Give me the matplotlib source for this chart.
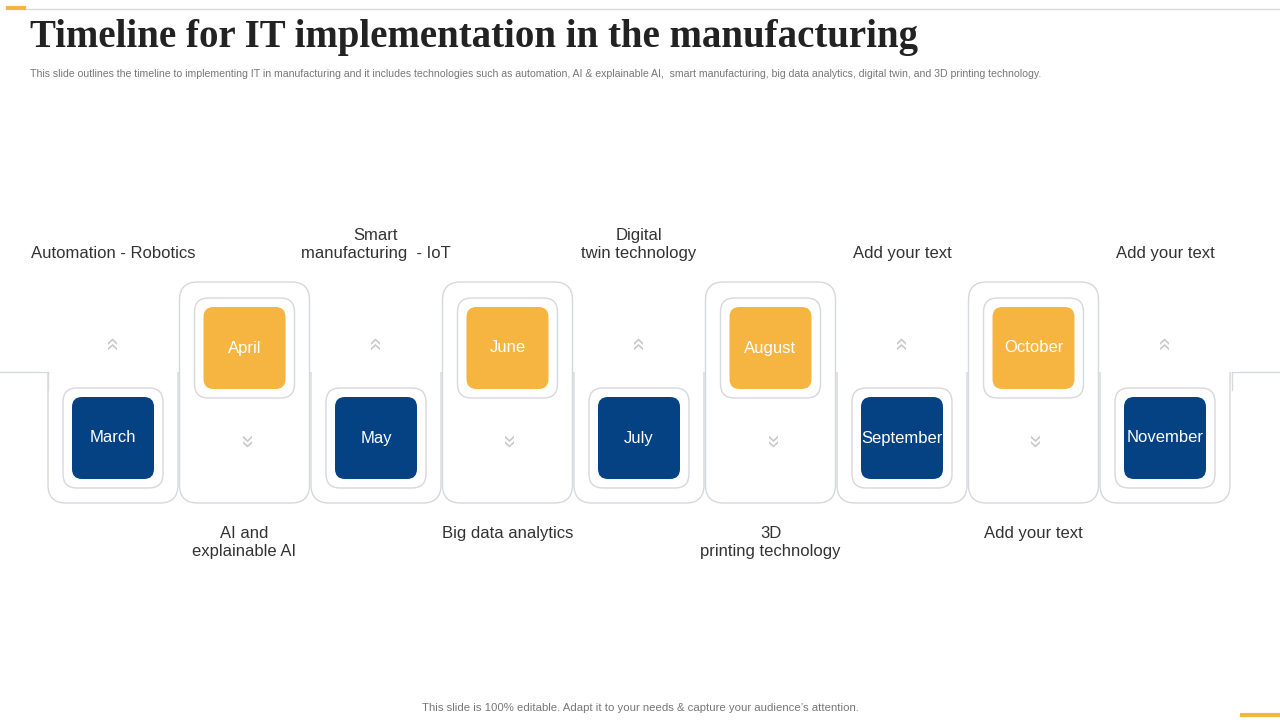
import matplotlib
matplotlib.use("Agg")
import matplotlib.pyplot as plt
from matplotlib.patches import FancyBboxPatch, Rectangle

plt.rcParams["font.family"] = "Liberation Sans"

months = ["March", "April", "May", "June", "July", "August", "September", "October", "November"]
labels = ["Automation - Robotics", "AI and\nexplainable AI", "Smart\nmanufacturing  - IoT",
          "Big data analytics", "Digital\ntwin technology", "3D\nprinting technology",
          "Add your text", "Add your text", "Add your text"]
title = "Timeline for IT implementation in the manufacturing"
subtitle = ("This slide outlines the timeline to implementing IT in manufacturing and it includes technologies such as "
            "automation, AI & explainable AI,  smart manufacturing, big data analytics, digital twin, and 3D printing technology.")
footer = "This slide is 100% editable. Adapt it to your needs & capture your audience\u2019s attention."

BLUE = "#044283"
ORANGE = "#F5B540"
GRAY = "#D5D8DC"

fig = plt.figure(figsize=(12.8, 7.2), dpi=100)
ax = fig.add_axes([0, 0, 1, 1])
ax.set_xlim(0, 1280)
ax.set_ylim(720, 0)
ax.axis("off")

ax.plot([24, 1280], [9, 9], color="#D9D9D9", lw=1)
ax.plot([8, 24], [8, 8], color=ORANGE, lw=3)
ax.plot([1242, 1278], [715, 715], color=ORANGE, lw=3)

ax.text(30, 38, title, fontsize=28, fontfamily="Liberation Serif", fontweight="bold",
        color="#222222", va="center", ha="left")
ax.text(30, 74, subtitle, fontsize=7.6, color="#777777", va="center", ha="left")
ax.text(640, 708, footer, fontsize=8.2, color="#777777", va="center", ha="center")

ax.plot([0, 48], [372, 372], color=GRAY, lw=1)
ax.plot([1232, 1280], [372, 372], color=GRAY, lw=1)

step = 131.5
centers = [113 + i * step for i in range(len(months))]

# bottom columns (open top)
for i, cx in enumerate(centers):
    if i % 2 == 0:
        ax.add_patch(FancyBboxPatch((cx - 65, 320), 130, 183, boxstyle="round,pad=0,rounding_size=18",
                                    fc="none", ec=GRAY, lw=1, zorder=1))
ax.add_patch(Rectangle((40, 300), 1200, 71.5, fc="white", ec="none", zorder=2))
ax.plot([48, 48], [372, 390], color=GRAY, lw=1, zorder=3)
ax.plot([1232, 1232], [372, 390], color=GRAY, lw=1, zorder=3)

for i, (cx, m, lab) in enumerate(zip(centers, months, labels)):
    top = (i % 2 == 1)
    if top:
        ax.add_patch(FancyBboxPatch((cx - 65, 282), 130, 221, boxstyle="round,pad=0,rounding_size=18",
                                    fc="none", ec=GRAY, lw=1, zorder=3))
    by = 348 if top else 438
    ax.add_patch(FancyBboxPatch((cx - 50, by - 50), 100, 100, boxstyle="round,pad=0,rounding_size=14",
                                fc="white", ec=GRAY, lw=1, zorder=4))
    ax.add_patch(FancyBboxPatch((cx - 41, by - 41), 82, 82, boxstyle="round,pad=0,rounding_size=10",
                                fc=ORANGE if top else BLUE, ec="none", zorder=5))
    ax.text(cx, by, m, fontsize=12, color="white", ha="center", va="center", zorder=6)
    if top:
        ax.text(cx, 442, "\u00bb", rotation=-90, fontsize=17, color="#C8C8C8", ha="center", va="center", zorder=6)
        ax.text(cx, 526, lab, fontsize=12, color="#333333", ha="center", va="top", linespacing=1.25, zorder=6)
    else:
        ax.text(cx, 342, "\u00bb", rotation=90, fontsize=17, color="#C8C8C8", ha="center", va="center", zorder=6)
        ax.text(cx, 261, lab, fontsize=12, color="#333333", ha="center", va="bottom", linespacing=1.25, zorder=6)

fig.savefig("out.png", dpi=100)
